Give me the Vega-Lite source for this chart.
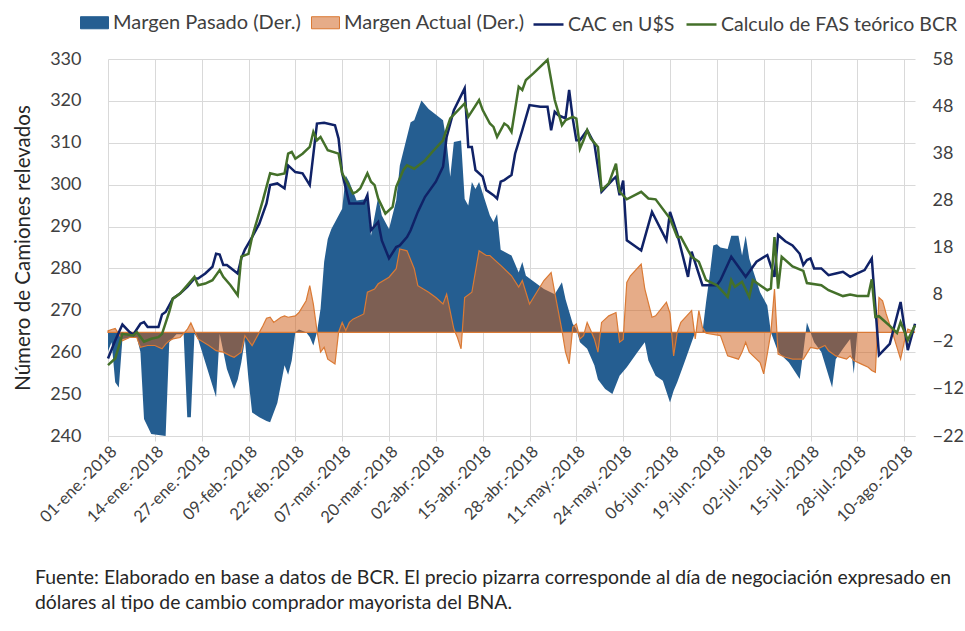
{
  "$schema": "https://vega.github.io/schema/vega-lite/v6.json",
  "width": 807,
  "height": 377,
  "autosize": {"type": "none"},
  "padding": {"left": 108, "top": 59, "right": 50, "bottom": 195},
  "background": "white",
  "config": {"font": "Lato", "view": {"stroke": null}},
  "title": {
    "text": ["Fuente: Elaborado en base a datos de BCR. El precio pizarra corresponde al día de negociación expresado en", "dólares al tipo de cambio comprador mayorista del BNA."],
    "orient": "bottom", "anchor": "start", "frame": "group", "dx": -73, "offset": 41,
    "fontSize": 19.4, "font": "Lato", "fontWeight": "normal", "color": "#262626", "lineHeight": 25
  },
  "datasets": {
    "pas": [
      {"d":"2018/01/01","v":-4},{"d":"2018/01/02","v":-2.1},{"d":"2018/01/03","v":-10.6},{"d":"2018/01/04","v":-11.7},{"d":"2018/01/05","v":-1.4},{"d":"2018/01/07","v":-1.2},{"d":"2018/01/09","v":-1.1},{"d":"2018/01/10","v":-4.2},{"d":"2018/01/11","v":-18.4},{"d":"2018/01/13","v":-21.6},{"d":"2018/01/17","v":-22},{"d":"2018/01/18","v":-2.1},{"d":"2018/01/20","v":-0.4},{"d":"2018/01/22","v":-0.4},{"d":"2018/01/23","v":-18},{"d":"2018/01/24","v":-18},{"d":"2018/01/25","v":-0.3},{"d":"2018/01/26","v":-1.4},{"d":"2018/01/31","v":-13.8},{"d":"2018/02/01","v":-0.3},{"d":"2018/02/03","v":-7.8},{"d":"2018/02/05","v":-12},{"d":"2018/02/06","v":-10},{"d":"2018/02/07","v":-6.4},{"d":"2018/02/08","v":-1.6},{"d":"2018/02/09","v":-10},{"d":"2018/02/10","v":-17},{"d":"2018/02/12","v":-18},{"d":"2018/02/14","v":-18.8},{"d":"2018/02/15","v":-19.1},{"d":"2018/02/17","v":-15},{"d":"2018/02/18","v":-11},{"d":"2018/02/19","v":-7},{"d":"2018/02/20","v":-9},{"d":"2018/02/21","v":-6},{"d":"2018/02/22","v":0},{"d":"2018/02/23","v":0.6},{"d":"2018/02/25","v":0},{"d":"2018/02/26","v":-1},{"d":"2018/02/27","v":-2.8},{"d":"2018/02/28","v":0},{"d":"2018/03/01","v":5},{"d":"2018/03/02","v":15},{"d":"2018/03/03","v":19.8},{"d":"2018/03/04","v":21.9},{"d":"2018/03/07","v":26.2},{"d":"2018/03/08","v":33.3},{"d":"2018/03/09","v":31.9},{"d":"2018/03/11","v":28},{"d":"2018/03/14","v":28.3},{"d":"2018/03/15","v":20.5},{"d":"2018/03/17","v":28.7},{"d":"2018/03/18","v":24.8},{"d":"2018/03/20","v":21.9},{"d":"2018/03/22","v":28},{"d":"2018/03/23","v":35.4},{"d":"2018/03/26","v":44.6},{"d":"2018/03/27","v":45},{"d":"2018/03/29","v":49.2},{"d":"2018/03/31","v":47.4},{"d":"2018/04/04","v":45},{"d":"2018/04/05","v":40.4},{"d":"2018/04/06","v":33},{"d":"2018/04/07","v":40.4},{"d":"2018/04/09","v":40.7},{"d":"2018/04/10","v":28.3},{"d":"2018/04/11","v":26.9},{"d":"2018/04/12","v":31.9},{"d":"2018/04/13","v":30.4},{"d":"2018/04/14","v":31.9},{"d":"2018/04/17","v":24.8},{"d":"2018/04/18","v":23.4},{"d":"2018/04/19","v":25.1},{"d":"2018/04/20","v":17.5},{"d":"2018/04/23","v":16.3},{"d":"2018/04/25","v":12.7},{"d":"2018/04/26","v":14.9},{"d":"2018/04/27","v":12},{"d":"2018/04/30","v":10.3},{"d":"2018/05/02","v":9.2},{"d":"2018/05/05","v":8.1},{"d":"2018/05/07","v":10.6},{"d":"2018/05/08","v":7},{"d":"2018/05/10","v":1.8},{"d":"2018/05/11","v":0.7},{"d":"2018/05/12","v":-2.1},{"d":"2018/05/14","v":-3.5},{"d":"2018/05/16","v":-7},{"d":"2018/05/17","v":-10},{"d":"2018/05/19","v":-12},{"d":"2018/05/21","v":-13.1},{"d":"2018/05/23","v":-9.2},{"d":"2018/05/25","v":-7.4},{"d":"2018/05/28","v":-4.2},{"d":"2018/05/30","v":-2.1},{"d":"2018/05/31","v":-6},{"d":"2018/06/02","v":-9.2},{"d":"2018/06/04","v":-10.3},{"d":"2018/06/06","v":-14.9},{"d":"2018/06/07","v":-12.4},{"d":"2018/06/08","v":-10.6},{"d":"2018/06/10","v":-6.4},{"d":"2018/06/12","v":-2.1},{"d":"2018/06/13","v":0},{"d":"2018/06/15","v":0},{"d":"2018/06/16","v":6.4},{"d":"2018/06/17","v":12},{"d":"2018/06/18","v":18.4},{"d":"2018/06/19","v":18.7},{"d":"2018/06/20","v":18},{"d":"2018/06/22","v":17.7},{"d":"2018/06/23","v":20.5},{"d":"2018/06/25","v":20.5},{"d":"2018/06/26","v":16.3},{"d":"2018/06/27","v":20.5},{"d":"2018/06/28","v":15.6},{"d":"2018/07/01","v":8.5},{"d":"2018/07/03","v":5.7},{"d":"2018/07/04","v":0},{"d":"2018/07/06","v":-4.2},{"d":"2018/07/09","v":-6.4},{"d":"2018/07/12","v":-9.9},{"d":"2018/07/13","v":-4.2},{"d":"2018/07/14","v":2.1},{"d":"2018/07/15","v":0},{"d":"2018/07/16","v":-2.1},{"d":"2018/07/18","v":-4.2},{"d":"2018/07/21","v":-11.7},{"d":"2018/07/22","v":-5.7},{"d":"2018/07/24","v":-3.5},{"d":"2018/07/26","v":-1.4},{"d":"2018/07/27","v":-8.8},{"d":"2018/07/28","v":0},{"d":"2018/08/13","v":0}
    ],
    "act": [
      {"d":"2018/01/01","v":0.3},{"d":"2018/01/02","v":0.6},{"d":"2018/01/03","v":0.8},{"d":"2018/01/04","v":-0.3},{"d":"2018/01/05","v":-1.8},{"d":"2018/01/07","v":-1.1},{"d":"2018/01/09","v":-1.1},{"d":"2018/01/10","v":-3.2},{"d":"2018/01/12","v":-2.8},{"d":"2018/01/14","v":-2.8},{"d":"2018/01/16","v":-3.5},{"d":"2018/01/17","v":-2.5},{"d":"2018/01/18","v":-1.8},{"d":"2018/01/19","v":-1.4},{"d":"2018/01/21","v":-1.1},{"d":"2018/01/23","v":0.6},{"d":"2018/01/24","v":2},{"d":"2018/01/25","v":0.3},{"d":"2018/01/26","v":-1.4},{"d":"2018/01/29","v":-2.8},{"d":"2018/01/31","v":-3.9},{"d":"2018/02/02","v":-4.2},{"d":"2018/02/04","v":-5},{"d":"2018/02/05","v":-5.3},{"d":"2018/02/07","v":-4.2},{"d":"2018/02/08","v":-0.7},{"d":"2018/02/10","v":-2.8},{"d":"2018/02/11","v":-1.4},{"d":"2018/02/13","v":1.4},{"d":"2018/02/14","v":3},{"d":"2018/02/15","v":3.2},{"d":"2018/02/16","v":2.1},{"d":"2018/02/18","v":3.2},{"d":"2018/02/19","v":3.5},{"d":"2018/02/20","v":3.2},{"d":"2018/02/22","v":3.5},{"d":"2018/02/23","v":4.2},{"d":"2018/02/25","v":6.7},{"d":"2018/02/26","v":9.9},{"d":"2018/02/27","v":6},{"d":"2018/02/28","v":0.4},{"d":"2018/03/01","v":-4.2},{"d":"2018/03/02","v":-3.2},{"d":"2018/03/03","v":-5.7},{"d":"2018/03/05","v":-6.7},{"d":"2018/03/06","v":0},{"d":"2018/03/07","v":2.1},{"d":"2018/03/08","v":0.4},{"d":"2018/03/09","v":2.1},{"d":"2018/03/10","v":2.8},{"d":"2018/03/13","v":3.9},{"d":"2018/03/14","v":8.5},{"d":"2018/03/16","v":9.2},{"d":"2018/03/17","v":10.3},{"d":"2018/03/20","v":11.7},{"d":"2018/03/22","v":13.5},{"d":"2018/03/23","v":17.7},{"d":"2018/03/25","v":17.3},{"d":"2018/03/27","v":13.5},{"d":"2018/03/28","v":9.9},{"d":"2018/03/31","v":8.5},{"d":"2018/04/02","v":7.4},{"d":"2018/04/04","v":6},{"d":"2018/04/05","v":8.1},{"d":"2018/04/07","v":0.7},{"d":"2018/04/08","v":-1.1},{"d":"2018/04/09","v":-3.5},{"d":"2018/04/10","v":7.4},{"d":"2018/04/12","v":8.5},{"d":"2018/04/14","v":17.3},{"d":"2018/04/16","v":16.3},{"d":"2018/04/17","v":16.3},{"d":"2018/04/19","v":14.9},{"d":"2018/04/20","v":14.2},{"d":"2018/04/23","v":12},{"d":"2018/04/25","v":9.6},{"d":"2018/04/26","v":11},{"d":"2018/04/28","v":6},{"d":"2018/04/30","v":8.5},{"d":"2018/05/02","v":11},{"d":"2018/05/04","v":12.7},{"d":"2018/05/05","v":8.5},{"d":"2018/05/07","v":0.4},{"d":"2018/05/08","v":-4.2},{"d":"2018/05/09","v":-6.7},{"d":"2018/05/10","v":1.1},{"d":"2018/05/11","v":1.8},{"d":"2018/05/12","v":-1.4},{"d":"2018/05/13","v":-0.7},{"d":"2018/05/14","v":2.1},{"d":"2018/05/15","v":0.4},{"d":"2018/05/16","v":-1.4},{"d":"2018/05/17","v":-4.2},{"d":"2018/05/18","v":2.1},{"d":"2018/05/20","v":3.5},{"d":"2018/05/22","v":4.2},{"d":"2018/05/23","v":-2.1},{"d":"2018/05/24","v":-1.5},{"d":"2018/05/25","v":10.6},{"d":"2018/05/26","v":12},{"d":"2018/05/29","v":14.5},{"d":"2018/05/30","v":9.2},{"d":"2018/06/01","v":3.2},{"d":"2018/06/02","v":3.5},{"d":"2018/06/05","v":6.4},{"d":"2018/06/06","v":4},{"d":"2018/06/07","v":-5},{"d":"2018/06/08","v":0},{"d":"2018/06/09","v":2.1},{"d":"2018/06/12","v":4.6},{"d":"2018/06/13","v":-1.4},{"d":"2018/06/14","v":4.6},{"d":"2018/06/15","v":1},{"d":"2018/06/16","v":-0.2},{"d":"2018/06/20","v":-0.7},{"d":"2018/06/22","v":-5},{"d":"2018/06/25","v":-5.7},{"d":"2018/06/26","v":-4.2},{"d":"2018/06/27","v":-2.1},{"d":"2018/06/28","v":-4.2},{"d":"2018/07/01","v":-6.4},{"d":"2018/07/02","v":-8.8},{"d":"2018/07/03","v":-4.6},{"d":"2018/07/04","v":0},{"d":"2018/07/05","v":9.2},{"d":"2018/07/06","v":-4.6},{"d":"2018/07/08","v":-5.3},{"d":"2018/07/10","v":-5.7},{"d":"2018/07/13","v":-5.7},{"d":"2018/07/15","v":-3.2},{"d":"2018/07/17","v":-3.5},{"d":"2018/07/19","v":-2.8},{"d":"2018/07/20","v":-3.9},{"d":"2018/07/22","v":-5},{"d":"2018/07/25","v":-5.7},{"d":"2018/07/26","v":-5},{"d":"2018/07/27","v":-6},{"d":"2018/07/29","v":-6.7},{"d":"2018/07/31","v":-7.4},{"d":"2018/08/01","v":-8.1},{"d":"2018/08/02","v":-8.5},{"d":"2018/08/03","v":7.4},{"d":"2018/08/04","v":6.7},{"d":"2018/08/05","v":3.9},{"d":"2018/08/07","v":-0.7},{"d":"2018/08/09","v":-5.7},{"d":"2018/08/10","v":-2.1},{"d":"2018/08/11","v":0.7},{"d":"2018/08/13","v":0}
    ],
    "cac": [
      {"d":"2018/01/01","v":258.5},{"d":"2018/01/03","v":262.8},{"d":"2018/01/05","v":266.6},{"d":"2018/01/07","v":264.8},{"d":"2018/01/08","v":264.2},{"d":"2018/01/10","v":266.8},{"d":"2018/01/11","v":267.2},{"d":"2018/01/12","v":266},{"d":"2018/01/15","v":266},{"d":"2018/01/16","v":269},{"d":"2018/01/17","v":269.6},{"d":"2018/01/19","v":272.8},{"d":"2018/01/21","v":274},{"d":"2018/01/23","v":275.6},{"d":"2018/01/25","v":277.6},{"d":"2018/01/26","v":277.6},{"d":"2018/01/28","v":278.8},{"d":"2018/01/30","v":280.4},{"d":"2018/01/31","v":283.5},{"d":"2018/02/01","v":283.3},{"d":"2018/02/02","v":280.8},{"d":"2018/02/03","v":280.8},{"d":"2018/02/06","v":278.8},{"d":"2018/02/07","v":282.4},{"d":"2018/02/08","v":284.5},{"d":"2018/02/10","v":287.5},{"d":"2018/02/12","v":290.7},{"d":"2018/02/14","v":295.5},{"d":"2018/02/15","v":299.9},{"d":"2018/02/17","v":300.3},{"d":"2018/02/19","v":299.1},{"d":"2018/02/20","v":304.6},{"d":"2018/02/22","v":303},{"d":"2018/02/24","v":302.7},{"d":"2018/02/26","v":299.9},{"d":"2018/02/28","v":314.6},{"d":"2018/03/02","v":314.8},{"d":"2018/03/05","v":314.2},{"d":"2018/03/06","v":311},{"d":"2018/03/07","v":302.7},{"d":"2018/03/09","v":295.5},{"d":"2018/03/13","v":295.5},{"d":"2018/03/14","v":297.5},{"d":"2018/03/15","v":289.1},{"d":"2018/03/17","v":291.1},{"d":"2018/03/18","v":286.7},{"d":"2018/03/20","v":282.4},{"d":"2018/03/22","v":285.1},{"d":"2018/03/23","v":285.5},{"d":"2018/03/25","v":287.5},{"d":"2018/03/26","v":289.1},{"d":"2018/03/28","v":293.5},{"d":"2018/03/30","v":297.1},{"d":"2018/04/02","v":300.7},{"d":"2018/04/04","v":304.3},{"d":"2018/04/05","v":311.4},{"d":"2018/04/07","v":317.8},{"d":"2018/04/10","v":323},{"d":"2018/04/11","v":309},{"d":"2018/04/12","v":309},{"d":"2018/04/13","v":303.5},{"d":"2018/04/15","v":301.9},{"d":"2018/04/16","v":298.7},{"d":"2018/04/18","v":297.5},{"d":"2018/04/19","v":296.7},{"d":"2018/04/20","v":300.7},{"d":"2018/04/21","v":301.1},{"d":"2018/04/23","v":302.3},{"d":"2018/04/24","v":307.4},{"d":"2018/04/26","v":313},{"d":"2018/04/28","v":319},{"d":"2018/05/01","v":318.6},{"d":"2018/05/03","v":318.6},{"d":"2018/05/04","v":313},{"d":"2018/05/05","v":317.4},{"d":"2018/05/06","v":316.6},{"d":"2018/05/08","v":315.8},{"d":"2018/05/09","v":322.6},{"d":"2018/05/10","v":315.8},{"d":"2018/05/11","v":310.6},{"d":"2018/05/12","v":310.6},{"d":"2018/05/14","v":313},{"d":"2018/05/16","v":309.8},{"d":"2018/05/18","v":298.3},{"d":"2018/05/21","v":301.1},{"d":"2018/05/22","v":301.9},{"d":"2018/05/23","v":297.5},{"d":"2018/05/24","v":301},{"d":"2018/05/25","v":286.7},{"d":"2018/05/29","v":284.3},{"d":"2018/06/01","v":293.5},{"d":"2018/06/05","v":286.7},{"d":"2018/06/06","v":293.5},{"d":"2018/06/08","v":288.3},{"d":"2018/06/11","v":278},{"d":"2018/06/12","v":284},{"d":"2018/06/15","v":276},{"d":"2018/06/19","v":276},{"d":"2018/06/20","v":277.2},{"d":"2018/06/23","v":282.8},{"d":"2018/06/27","v":278},{"d":"2018/06/30","v":281.6},{"d":"2018/07/03","v":283.2},{"d":"2018/07/05","v":278},{"d":"2018/07/06","v":288},{"d":"2018/07/08","v":286.5},{"d":"2018/07/10","v":285.5},{"d":"2018/07/12","v":283.5},{"d":"2018/07/13","v":280.8},{"d":"2018/07/14","v":282},{"d":"2018/07/15","v":282.4},{"d":"2018/07/16","v":280},{"d":"2018/07/18","v":280},{"d":"2018/07/20","v":278.4},{"d":"2018/07/22","v":278.8},{"d":"2018/07/24","v":279.2},{"d":"2018/07/26","v":278},{"d":"2018/07/28","v":278.8},{"d":"2018/07/30","v":279.6},{"d":"2018/08/01","v":282.4},{"d":"2018/08/03","v":259.3},{"d":"2018/08/06","v":262},{"d":"2018/08/09","v":272},{"d":"2018/08/11","v":260.5},{"d":"2018/08/13","v":266.8}
    ],
    "fas": [
      {"d":"2018/01/01","v":256.9},{"d":"2018/01/03","v":258.5},{"d":"2018/01/05","v":264.4},{"d":"2018/01/08","v":264},{"d":"2018/01/09","v":264.8},{"d":"2018/01/11","v":262.5},{"d":"2018/01/13","v":263.2},{"d":"2018/01/15","v":263.6},{"d":"2018/01/16","v":264.4},{"d":"2018/01/18","v":269.6},{"d":"2018/01/19","v":272.8},{"d":"2018/01/21","v":274},{"d":"2018/01/25","v":278},{"d":"2018/01/26","v":276},{"d":"2018/01/28","v":276.4},{"d":"2018/01/30","v":277.2},{"d":"2018/02/01","v":279.6},{"d":"2018/02/02","v":278},{"d":"2018/02/04","v":276},{"d":"2018/02/06","v":273.6},{"d":"2018/02/07","v":282.8},{"d":"2018/02/09","v":283.5},{"d":"2018/02/10","v":287.5},{"d":"2018/02/13","v":296.3},{"d":"2018/02/15","v":302.7},{"d":"2018/02/17","v":302.3},{"d":"2018/02/19","v":302.7},{"d":"2018/02/20","v":307.4},{"d":"2018/02/21","v":307.8},{"d":"2018/02/22","v":306.2},{"d":"2018/02/24","v":307.4},{"d":"2018/02/26","v":309},{"d":"2018/02/27","v":312.6},{"d":"2018/02/28","v":310.6},{"d":"2018/03/01","v":311.4},{"d":"2018/03/03","v":308.2},{"d":"2018/03/06","v":307.4},{"d":"2018/03/07","v":302.7},{"d":"2018/03/10","v":297.9},{"d":"2018/03/11","v":298.3},{"d":"2018/03/12","v":299.1},{"d":"2018/03/14","v":302.7},{"d":"2018/03/15","v":300.7},{"d":"2018/03/16","v":299.9},{"d":"2018/03/17","v":296.7},{"d":"2018/03/19","v":293.1},{"d":"2018/03/21","v":294.7},{"d":"2018/03/22","v":299.5},{"d":"2018/03/24","v":303.5},{"d":"2018/03/25","v":304.6},{"d":"2018/03/27","v":303.8},{"d":"2018/03/30","v":305.8},{"d":"2018/04/01","v":307.8},{"d":"2018/04/04","v":310.6},{"d":"2018/04/06","v":315.8},{"d":"2018/04/10","v":319.4},{"d":"2018/04/11","v":316.2},{"d":"2018/04/14","v":320.2},{"d":"2018/04/15","v":317.8},{"d":"2018/04/17","v":314.6},{"d":"2018/04/18","v":313.8},{"d":"2018/04/19","v":311.4},{"d":"2018/04/21","v":314.6},{"d":"2018/04/22","v":314},{"d":"2018/04/23","v":312.6},{"d":"2018/04/25","v":323.4},{"d":"2018/04/26","v":322.6},{"d":"2018/04/27","v":325},{"d":"2018/04/29","v":326.5},{"d":"2018/05/03","v":329.8},{"d":"2018/05/05","v":320.2},{"d":"2018/05/07","v":314.2},{"d":"2018/05/08","v":315.4},{"d":"2018/05/10","v":316.2},{"d":"2018/05/11","v":315.8},{"d":"2018/05/12","v":308.6},{"d":"2018/05/13","v":310.6},{"d":"2018/05/14","v":313},{"d":"2018/05/15","v":311},{"d":"2018/05/17","v":309},{"d":"2018/05/18","v":298.7},{"d":"2018/05/20","v":300.3},{"d":"2018/05/22","v":305},{"d":"2018/05/23","v":298.3},{"d":"2018/05/25","v":296.5},{"d":"2018/05/29","v":298.3},{"d":"2018/05/31","v":296.7},{"d":"2018/06/02","v":296.5},{"d":"2018/06/06","v":291.9},{"d":"2018/06/08","v":287.5},{"d":"2018/06/09","v":287.5},{"d":"2018/06/11","v":284.3},{"d":"2018/06/12","v":282.8},{"d":"2018/06/14","v":281.6},{"d":"2018/06/16","v":277.2},{"d":"2018/06/19","v":276},{"d":"2018/06/22","v":273.2},{"d":"2018/06/23","v":277.2},{"d":"2018/06/24","v":275.6},{"d":"2018/06/26","v":276.8},{"d":"2018/06/28","v":273.2},{"d":"2018/06/29","v":277.2},{"d":"2018/07/01","v":276},{"d":"2018/07/03","v":274.8},{"d":"2018/07/04","v":275.2},{"d":"2018/07/05","v":287.5},{"d":"2018/07/06","v":275.2},{"d":"2018/07/07","v":282.8},{"d":"2018/07/10","v":280.5},{"d":"2018/07/13","v":279.4},{"d":"2018/07/14","v":276.5},{"d":"2018/07/18","v":276},{"d":"2018/07/20","v":274.8},{"d":"2018/07/24","v":273.4},{"d":"2018/07/26","v":273.8},{"d":"2018/07/28","v":273.4},{"d":"2018/07/31","v":273.4},{"d":"2018/08/01","v":277.4},{"d":"2018/08/02","v":268.4},{"d":"2018/08/03","v":268.6},{"d":"2018/08/06","v":266.3},{"d":"2018/08/08","v":264.6},{"d":"2018/08/09","v":267.2},{"d":"2018/08/11","v":262.9},{"d":"2018/08/13","v":266.4}
    ]
  },
  "layer": [
    {
      "data": {"name": "pas"},
      "mark": {"type": "area", "interpolate": "linear"},
      "encoding": {
        "x": {
          "field": "d", "type": "temporal",
          "scale": {"domain": [{"year": 2018, "month": 1, "date": 1}, {"year": 2018, "month": 8, "date": 13}]},
          "axis": {
            "title": null,
            "values": [
              {"year": 2018, "month": 1, "date": 1}, {"year": 2018, "month": 1, "date": 14}, {"year": 2018, "month": 1, "date": 27},
              {"year": 2018, "month": 2, "date": 9}, {"year": 2018, "month": 2, "date": 22}, {"year": 2018, "month": 3, "date": 7},
              {"year": 2018, "month": 3, "date": 20}, {"year": 2018, "month": 4, "date": 2}, {"year": 2018, "month": 4, "date": 15},
              {"year": 2018, "month": 4, "date": 28}, {"year": 2018, "month": 5, "date": 11}, {"year": 2018, "month": 5, "date": 24},
              {"year": 2018, "month": 6, "date": 6}, {"year": 2018, "month": 6, "date": 19}, {"year": 2018, "month": 7, "date": 2},
              {"year": 2018, "month": 7, "date": 15}, {"year": 2018, "month": 7, "date": 28}, {"year": 2018, "month": 8, "date": 10}
            ],
            "labelExpr": "timeFormat(datum.value, '%d') + '-' + ['ene.','feb.','mar.','abr.','may.','jun.','jul.','ago.','sep.','oct.','nov.','dic.'][month(datum.value)] + '-2018'",
            "labelAngle": -45, "labelFontSize": 16.5, "labelColor": "#404040", "labelFont": "Lato",
            "labelOverlap": false, "labelBound": false, "labelFlush": false, "labelPadding": 2,
            "grid": true, "gridColor": "#D9D9D9", "gridWidth": 1,
            "domain": true, "domainColor": "#D9D9D9", "ticks": true, "tickColor": "#D9D9D9", "tickSize": 5
          }
        },
        "y": {
          "field": "v", "type": "quantitative", "stack": null,
          "scale": {"domain": [-22, 58], "nice": false, "zero": false},
          "axis": {
            "orient": "right", "title": null, "values": [-22, -12, -2, 8, 18, 28, 38, 48, 58],
            "grid": false, "domain": false, "ticks": false,
            "labelFontSize": 18, "labelColor": "#404040", "labelFont": "Lato", "labelPadding": 17
          }
        },
        "y2": {"datum": 0},
        "fill": {
          "datum": "Margen Pasado (Der.)",
          "scale": {"domain": ["Margen Pasado (Der.)", "Margen Actual (Der.)"], "range": ["#255E91", "#D0601A"]},
          "legend": {
            "title": null, "orient": "none", "legendX": -28, "legendY": -51, "direction": "horizontal",
            "symbolType": "M-1,-0.43H1V0.43H-1Z", "symbolSize": 784, "symbolStrokeWidth": 1,
            "labelFontSize": 20, "labelColor": "#404040", "labelFont": "Lato", "labelOffset": 4, "labelLimit": 0,
            "columnPadding": 8, "padding": 0,
            "encode": {"symbols": {"update": {
              "fillOpacity": {"signal": "datum.value === 'Margen Actual (Der.)' ? 0.52 : 1"},
              "stroke": {"signal": "datum.value === 'Margen Actual (Der.)' ? '#DA7A35' : '#255E91'"},
              "opacity": {"value": 1}
            }}}
          }
        }
      }
    },
    {
      "data": {"name": "act"},
      "mark": {"type": "area", "fillOpacity": 0.52, "stroke": "#DA7A35", "strokeWidth": 1.2},
      "encoding": {
        "x": {"field": "d", "type": "temporal"},
        "y": {"field": "v", "type": "quantitative", "stack": null, "scale": {"domain": [-22, 58], "nice": false, "zero": false}, "axis": null},
        "y2": {"datum": 0},
        "fill": {"datum": "Margen Actual (Der.)"}
      }
    },
    {
      "data": {"name": "cac"},
      "mark": {"type": "line", "strokeWidth": 2.5},
      "encoding": {
        "x": {"field": "d", "type": "temporal"},
        "y": {
          "field": "v", "type": "quantitative",
          "scale": {"domain": [240, 330], "nice": false, "zero": false},
          "axis": {
            "orient": "left", "values": [240, 250, 260, 270, 280, 290, 300, 310, 320, 330],
            "grid": true, "gridColor": "#D9D9D9", "gridWidth": 1, "domain": false, "ticks": false,
            "labelFontSize": 18, "labelColor": "#404040", "labelFont": "Lato", "labelPadding": 27,
            "title": "Número de Camiones relevados", "titleFontSize": 20.5, "titleFont": "Lato",
            "titleFontWeight": "normal", "titleColor": "#262626", "titlePadding": 16
          }
        },
        "stroke": {
          "datum": "CAC en U$S",
          "scale": {"domain": ["CAC en U$S", "Calculo de FAS teórico BCR"], "range": ["#102267", "#44702A"]},
          "legend": {
            "title": null, "orient": "none", "legendX": 424, "legendY": -51, "direction": "horizontal",
            "symbolType": "stroke", "symbolSize": 900, "symbolStrokeWidth": 2.5,
            "labelFontSize": 19.5, "labelColor": "#404040", "labelFont": "Lato", "labelOffset": 3, "labelLimit": 0,
            "columnPadding": 6, "padding": 0
          }
        }
      }
    },
    {
      "data": {"name": "fas"},
      "mark": {"type": "line", "strokeWidth": 2.5},
      "encoding": {
        "x": {"field": "d", "type": "temporal"},
        "y": {"field": "v", "type": "quantitative", "scale": {"domain": [240, 330], "nice": false, "zero": false}, "axis": null},
        "stroke": {"datum": "Calculo de FAS teórico BCR"}
      }
    }
  ],
  "resolve": {"scale": {"y": "independent"}}
}
